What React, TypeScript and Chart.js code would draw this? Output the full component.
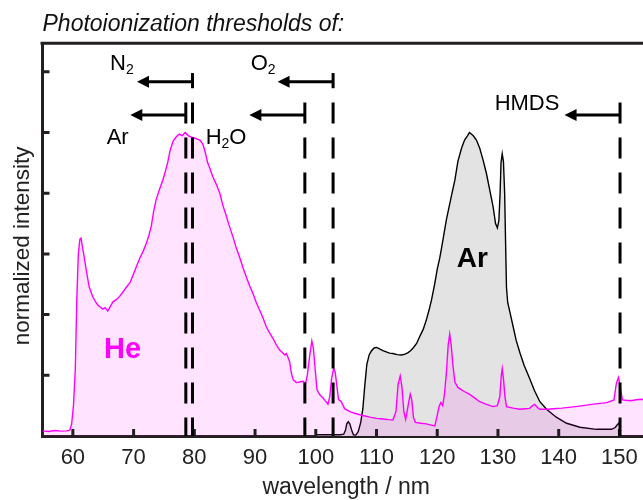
import React, { useEffect, useRef } from 'react';
import { Chart, registerables } from 'chart.js';

Chart.register(...registerables);

// He discharge emission spectrum (normalized)
const heWavelength = [
  55.0, 56.0, 57.0, 58.0, 59.0, 59.5, 59.8, 60.1, 60.4, 60.65,
  60.9, 61.15, 61.35, 61.6, 61.9, 62.3, 62.7, 63.3, 63.8, 64.1,
  64.5, 64.9, 65.3, 65.75, 66.2, 66.6, 67.2, 67.7, 68.3, 68.8,
  69.4, 69.9, 70.5, 71.0, 71.6, 72.1, 72.5, 72.9, 73.3, 73.7,
  74.3, 74.8, 75.2, 75.6, 76.0, 76.5, 77.0, 77.5, 78.0, 78.5,
  79.0, 79.5, 80.0, 80.5, 80.9, 81.4, 81.8, 82.2, 82.6, 83.05,
  83.6, 84.2, 84.7, 85.3, 85.8, 86.35, 86.9, 87.45, 88.0, 88.55,
  89.1, 89.65, 90.2, 90.75, 91.3, 91.85, 92.4, 92.95, 93.5, 94.05,
  94.5, 94.9, 95.15, 95.4, 95.7, 96.0, 96.3, 96.8, 97.3, 97.9,
  98.3, 98.6, 99.0, 99.35, 99.6, 99.9, 100.2, 100.7, 101.2, 101.6,
  102.0, 102.3, 102.6, 102.95, 103.2, 103.5, 103.75, 104.2, 104.5, 104.75,
  105.6, 106.4, 107.25, 108.1, 108.9, 110.0, 111.1, 112.0, 112.7, 113.2,
  113.55, 113.9, 114.2, 114.5, 114.8, 115.2, 115.55, 115.8, 116.1, 116.4,
  117.3, 118.2, 119.0, 119.6, 119.9, 120.3, 120.6, 120.9, 121.2, 121.5,
  121.8, 122.05, 122.3, 122.55, 122.9, 123.4, 124.0, 124.6, 125.35, 126.2,
  127.0, 128.0, 129.2, 129.9, 130.3, 130.55, 130.7, 130.9, 131.15, 131.4,
  132.5, 133.6, 134.5, 135.2, 135.7, 136.05, 136.5, 136.9, 138.0, 139.1,
  140.5, 142.4, 144.0, 145.7, 147.9, 149.1, 149.5, 149.85, 150.2, 150.5,
  151.75, 153.4, 155.0,
];
const heIntensity = [
  0.017, 0.015, 0.018, 0.016, 0.017, 0.019, 0.04, 0.1, 0.22, 0.45,
  0.6, 0.648, 0.652, 0.62, 0.585, 0.535, 0.49, 0.458, 0.44, 0.432,
  0.425, 0.418, 0.423, 0.412, 0.428, 0.442, 0.45, 0.46, 0.476, 0.49,
  0.505, 0.53, 0.56, 0.585, 0.61, 0.635, 0.66, 0.69, 0.74, 0.778,
  0.815, 0.843, 0.87, 0.9, 0.94, 0.972, 0.985, 0.995, 0.99, 1.0,
  0.99, 0.985, 0.982, 0.978, 0.975, 0.962, 0.935, 0.9, 0.88, 0.854,
  0.83, 0.8, 0.76, 0.723, 0.69, 0.657, 0.62, 0.59, 0.555, 0.525,
  0.495, 0.47, 0.44, 0.415, 0.39, 0.36, 0.34, 0.322, 0.3, 0.283,
  0.275, 0.267, 0.272, 0.26, 0.245, 0.205, 0.185, 0.176, 0.178, 0.18,
  0.172, 0.2, 0.265, 0.313, 0.29, 0.22, 0.152, 0.135, 0.125, 0.115,
  0.105, 0.13, 0.19, 0.223, 0.21, 0.16, 0.12, 0.113, 0.1, 0.09,
  0.08, 0.075, 0.07, 0.066, 0.062, 0.058, 0.056, 0.054, 0.053, 0.08,
  0.17, 0.198, 0.16, 0.08, 0.055, 0.1, 0.138, 0.12, 0.06, 0.045,
  0.042, 0.04, 0.036, 0.033, 0.06, 0.097, 0.11, 0.1, 0.14, 0.207,
  0.3, 0.336, 0.3, 0.24, 0.178, 0.16, 0.152, 0.145, 0.137, 0.125,
  0.113, 0.105, 0.097, 0.1, 0.13, 0.2, 0.222, 0.19, 0.13, 0.097,
  0.092, 0.088, 0.09, 0.091, 0.1, 0.104, 0.094, 0.088, 0.088, 0.09,
  0.092, 0.096, 0.1, 0.105, 0.11, 0.119, 0.174, 0.193, 0.152, 0.119,
  0.116, 0.121, 0.12,
];

// Ar discharge emission spectrum (normalized)
const arWavelength = [
  100.0, 102.0, 104.0, 104.6, 104.9, 105.1, 105.35, 105.6, 105.9, 106.2,
  106.6, 107.0, 107.4, 107.75, 108.05, 108.4, 108.8, 109.15, 109.6, 110.0,
  110.5, 111.05, 111.6, 112.15, 112.7, 113.4, 114.1, 114.7, 115.2, 115.6,
  116.0, 116.6, 117.1, 117.7, 118.2, 118.65, 119.05, 119.6, 120.0, 120.4,
  120.7, 121.1, 121.5, 121.9, 122.3, 122.9, 123.4, 124.0, 124.5, 125.0,
  125.3, 125.9, 126.45, 127.0, 127.55, 128.1, 128.65, 129.2, 129.6, 129.9,
  130.15, 130.35, 130.5, 130.7, 130.9, 131.1, 131.25, 131.4, 131.6, 132.0,
  132.5, 133.0, 133.6, 134.3, 135.2, 136.0, 136.9, 138.0, 139.6, 141.3,
  143.5, 146.2, 148.7, 149.3, 149.85, 150.1,
];
const arIntensity = [
  0.004, 0.004, 0.004, 0.006, 0.02, 0.04, 0.047, 0.04, 0.02, 0.004,
  0.003, 0.015, 0.045, 0.09, 0.162, 0.235, 0.268, 0.28, 0.29, 0.292,
  0.287, 0.281, 0.277, 0.273, 0.272, 0.268, 0.267, 0.27, 0.275, 0.281,
  0.289, 0.305, 0.327, 0.352, 0.382, 0.415, 0.448, 0.503, 0.55, 0.585,
  0.618, 0.665, 0.712, 0.75, 0.788, 0.843, 0.905, 0.948, 0.975, 0.99,
  1.0, 0.99, 0.975, 0.948, 0.909, 0.865, 0.81, 0.755, 0.7, 0.686,
  0.71, 0.8, 0.9, 0.93, 0.905, 0.8, 0.64, 0.49, 0.44, 0.405,
  0.36, 0.315, 0.275, 0.233, 0.19, 0.15, 0.113, 0.088, 0.062, 0.042,
  0.029, 0.022, 0.022, 0.028, 0.042, 0.033,
];

const xTickValues = [60, 70, 80, 90, 100, 110, 120, 130, 140, 150];
const xTickLabels = ['60', '70', '80', '90', '100', '110', '120', '130', '140', '150'];
const yTickValues = [0.2, 0.4, 0.6, 0.8, 1.0, 1.2];

// Ionization thresholds (nm); label parts alternate normal / subscript
const thresholdLabels = [['N', '2'], ['Ar'], ['O', '2'], ['H', '2', 'O'], ['HMDS']];
const thresholdWavelengths = [79.7, 78.6, 102.85, 98.2, 150.1];

const FONT = "'Liberation Sans', Arial, Helvetica, sans-serif";
const AXIS_COLOR = '#231f20';
const CANVAS_W = 652;
const CANVAS_H = 505;
const X_AXIS_HEIGHT = 69;

// Annotation geometry in data units
const annotationLayout = {
  arrowLength: 9.14,
  rowArrowY: [1.167, 1.058],
  rowOfThreshold: [0, 1, 0, 1, 1],
  upperBar: [1.146, 1.196],
  dashTop: 1.099,
  labelAnchors: [
    [66.13, 1.206],
    [65.57, 0.962],
    [89.28, 1.206],
    [81.87, 0.962],
    [129.45, 1.074],
  ],
  heLabel: [65.13, 0.256],
  arLabel: [123.2, 0.558],
};

const overlayPlugin = {
  id: 'thresholdOverlay',
  afterDraw(chart: any) {
    const { ctx, chartArea } = chart;
    const xs = chart.scales.x;
    const ys = chart.scales.y;
    const L = annotationLayout;
    ctx.save();

    // big series labels
    ctx.textAlign = 'left';
    ctx.textBaseline = 'alphabetic';
    ctx.font = `bold 29px ${FONT}`;
    ctx.fillStyle = '#ff00ff';
    ctx.fillText('He', xs.getPixelForValue(L.heLabel[0]), ys.getPixelForValue(L.heLabel[1]));
    ctx.font = `bold 28px ${FONT}`;
    ctx.fillStyle = '#000';
    ctx.fillText('Ar', xs.getPixelForValue(L.arLabel[0]), ys.getPixelForValue(L.arLabel[1]));

    // top frame line
    ctx.strokeStyle = AXIS_COLOR;
    ctx.lineWidth = 3;
    ctx.beginPath();
    ctx.moveTo(chartArea.left - 2, chartArea.top);
    ctx.lineTo(chartArea.right, chartArea.top);
    ctx.stroke();

    // inward tick marks
    const tickLen = 7;
    ctx.beginPath();
    xTickValues.forEach((v) => {
      const px = xs.getPixelForValue(v);
      ctx.moveTo(px, chartArea.bottom);
      ctx.lineTo(px, chartArea.bottom - tickLen);
    });
    yTickValues.forEach((v) => {
      const py = ys.getPixelForValue(v);
      ctx.moveTo(chartArea.left, py);
      ctx.lineTo(chartArea.left + tickLen, py);
    });
    ctx.stroke();

    // threshold markers
    ctx.strokeStyle = '#000';
    ctx.fillStyle = '#000';
    ctx.lineWidth = 3;
    ctx.lineCap = 'butt';
    thresholdWavelengths.forEach((wl, i) => {
      const px = xs.getPixelForValue(wl);
      const row = L.rowOfThreshold[i];
      const ay = ys.getPixelForValue(L.rowArrowY[row]);
      const tipX = xs.getPixelForValue(wl - L.arrowLength);

      // dashed vertical line
      ctx.setLineDash([21, 14]);
      ctx.beginPath();
      ctx.moveTo(px, ys.getPixelForValue(L.dashTop));
      ctx.lineTo(px, chartArea.bottom);
      ctx.stroke();
      ctx.setLineDash([]);

      if (row === 0) {
        ctx.beginPath();
        ctx.moveTo(px, ys.getPixelForValue(L.upperBar[1]));
        ctx.lineTo(px, ys.getPixelForValue(L.upperBar[0]));
        ctx.stroke();
      }

      // arrow pointing to shorter wavelengths
      const head = 12;
      ctx.beginPath();
      ctx.moveTo(px, ay);
      ctx.lineTo(tipX + head - 1, ay);
      ctx.stroke();
      ctx.beginPath();
      ctx.moveTo(tipX, ay);
      ctx.lineTo(tipX + head, ay - 6);
      ctx.lineTo(tipX + head, ay + 6);
      ctx.closePath();
      ctx.fill();

      // gas label with subscripts
      const [lx, ly] = L.labelAnchors[i];
      let cx = xs.getPixelForValue(lx);
      const by = ys.getPixelForValue(ly);
      thresholdLabels[i].forEach((part, k) => {
        const sub = k % 2 === 1;
        ctx.font = sub ? `14px ${FONT}` : `22px ${FONT}`;
        ctx.fillText(part, cx, sub ? by + 3.5 : by);
        cx += ctx.measureText(part).width;
      });
    });

    ctx.restore();
  },
};

export default function App() {
  const canvasRef = useRef<HTMLCanvasElement>(null);

  useEffect(() => {
    const canvas = canvasRef.current;
    if (!canvas) return;
    Chart.defaults.font.family = FONT;

    const heData = heWavelength.map((x, i) => ({ x, y: heIntensity[i] }));
    const arData = arWavelength.map((x, i) => ({ x, y: arIntensity[i] }));

    const chart = new Chart(canvas, {
      type: 'line',
      data: {
        datasets: [
          {
            label: 'He',
            data: heData,
            borderColor: '#ff00ff',
            borderWidth: 1.4,
            backgroundColor: 'rgba(255,0,255,0.11)',
            fill: 'origin',
            pointRadius: 0,
            tension: 0,
          },
          {
            label: 'Ar',
            data: arData,
            borderColor: '#000000',
            borderWidth: 1.4,
            backgroundColor: '#e3e3e3',
            fill: 'origin',
            pointRadius: 0,
            tension: 0,
          },
        ],
      },
      options: {
        animation: false,
        responsive: false,
        devicePixelRatio: 1,
        events: [],
        layout: { padding: { left: 8.1, right: 2.2, top: 0, bottom: 0 } },
        plugins: {
          legend: { display: false },
          tooltip: { enabled: false },
          title: {
            display: true,
            text: 'Photoionization thresholds of:',
            align: 'start',
            fullSize: false,
            color: '#111',
            font: { size: 23, style: 'italic', weight: 'normal', family: FONT },
            padding: { top: 10.5, bottom: 5.2 },
          },
        },
        scales: {
          x: {
            type: 'linear',
            min: 55,
            max: 155,
            z: 1,
            afterBuildTicks: (scale: any) => {
              scale.ticks = xTickValues.map((v) => ({ value: v }));
            },
            afterFit: (scale: any) => {
              scale.height = X_AXIS_HEIGHT;
            },
            ticks: {
              color: '#222',
              padding: 8.5,
              font: { size: 22, family: FONT },
              maxRotation: 0,
              autoSkip: false,
              callback: (_v: any, i: number) => xTickLabels[i],
            },
            grid: { display: true, drawOnChartArea: false, drawTicks: false },
            border: { display: true, color: AXIS_COLOR, width: 3 },
            title: {
              display: true,
              text: 'wavelength / nm',
              color: '#222',
              font: { size: 23, family: FONT },
              padding: { top: 4, bottom: 3.2 },
            },
          },
          y: {
            type: 'linear',
            min: 0,
            max: 1.294,
            z: 1,
            afterBuildTicks: (scale: any) => {
              scale.ticks = yTickValues.map((v) => ({ value: v }));
            },
            ticks: { display: false },
            grid: { display: true, drawOnChartArea: false, drawTicks: false },
            border: { display: true, color: AXIS_COLOR, width: 3 },
            title: {
              display: true,
              // trailing spaces nudge the rotated label toward the lower part of the axis
              text: 'normalized intensity  ',
              color: '#222',
              font: { size: 22.5, family: FONT },
              padding: { top: 0.7, bottom: 6.7 },
            },
          },
        },
      },
      plugins: [overlayPlugin],
    });

    return () => chart.destroy();
  }, []);

  return (
    <div
      style={{
        position: 'fixed',
        left: 0,
        top: 0,
        width: 643,
        height: 500,
        overflow: 'hidden',
        background: '#fff',
      }}
    >
      <canvas
        ref={canvasRef}
        width={CANVAS_W}
        height={CANVAS_H}
        style={{ display: 'block', width: CANVAS_W, height: CANVAS_H }}
      />
    </div>
  );
}
